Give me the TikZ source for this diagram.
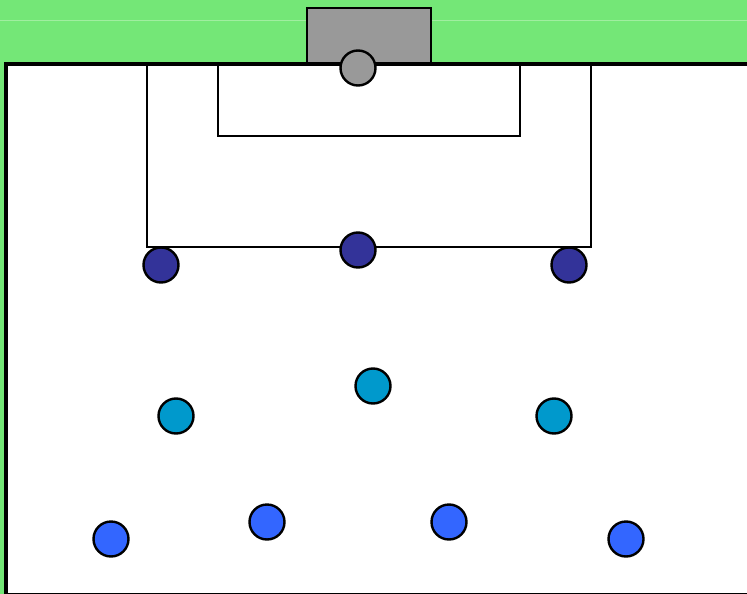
\documentclass[tikz,border=0pt]{standalone}
\usetikzlibrary{calc}

\definecolor{grass}{RGB}{116,231,119}
\definecolor{grassline}{RGB}{160,238,160}
\definecolor{postgray}{RGB}{153,153,153}
\definecolor{defblue}{RGB}{51,51,153}
\definecolor{midblue}{RGB}{0,153,204}
\definecolor{fwdblue}{RGB}{51,102,255}

\begin{document}
\begin{tikzpicture}[x=1pt, y=-1pt, line join=miter,
  player/.style={circle, draw=black, line width=2.4pt, minimum size=35pt, inner sep=0pt},
  boxline/.style={draw=black, line width=2.4pt}]

  \useasboundingbox (0,0) rectangle (747,594);
  \clip (0,0) rectangle (747,594);

  % grass round the pitch
  \fill[grass] (0,0) rectangle (747,594);
  \draw[grassline, line width=0.8pt] (0,20) -- (747,20);

  % pitch, right side runs off the picture
  \coordinate (P1) at (6,64);
  \coordinate (P2) at (770,595);
  \draw[fill=white, line width=4pt] (P1) rectangle (P2);

  % penalty box and goal area
  \draw[boxline] (147,64) -- (147,247) -- (591,247) -- (591,64);
  \draw[boxline] (218,64) -- (218,136) -- (520,136) -- (520,64);

  % goal
  \draw[fill=postgray, line width=2.4pt] (307,62) -- (307,8) -- (431,8) -- (431,62);

  % keeper
  \node[player, fill=postgray] (gk) at (358,68) {};

  % back line
  \node[player, fill=defblue] (d1) at (161,265) {};
  \node[player, fill=defblue] (d2) at (358,250) {};
  \node[player, fill=defblue] (d3) at (569,265) {};

  % midfield
  \node[player, fill=midblue] (m1) at (176,416) {};
  \node[player, fill=midblue] (m2) at (373,386) {};
  \node[player, fill=midblue] (m3) at (554,416) {};

  % front line
  \node[player, fill=fwdblue] (f1) at (111,539) {};
  \node[player, fill=fwdblue] (f2) at (267,522) {};
  \node[player, fill=fwdblue] (f3) at (449,522) {};
  \node[player, fill=fwdblue] (f4) at (626,539) {};
\end{tikzpicture}
\end{document}
